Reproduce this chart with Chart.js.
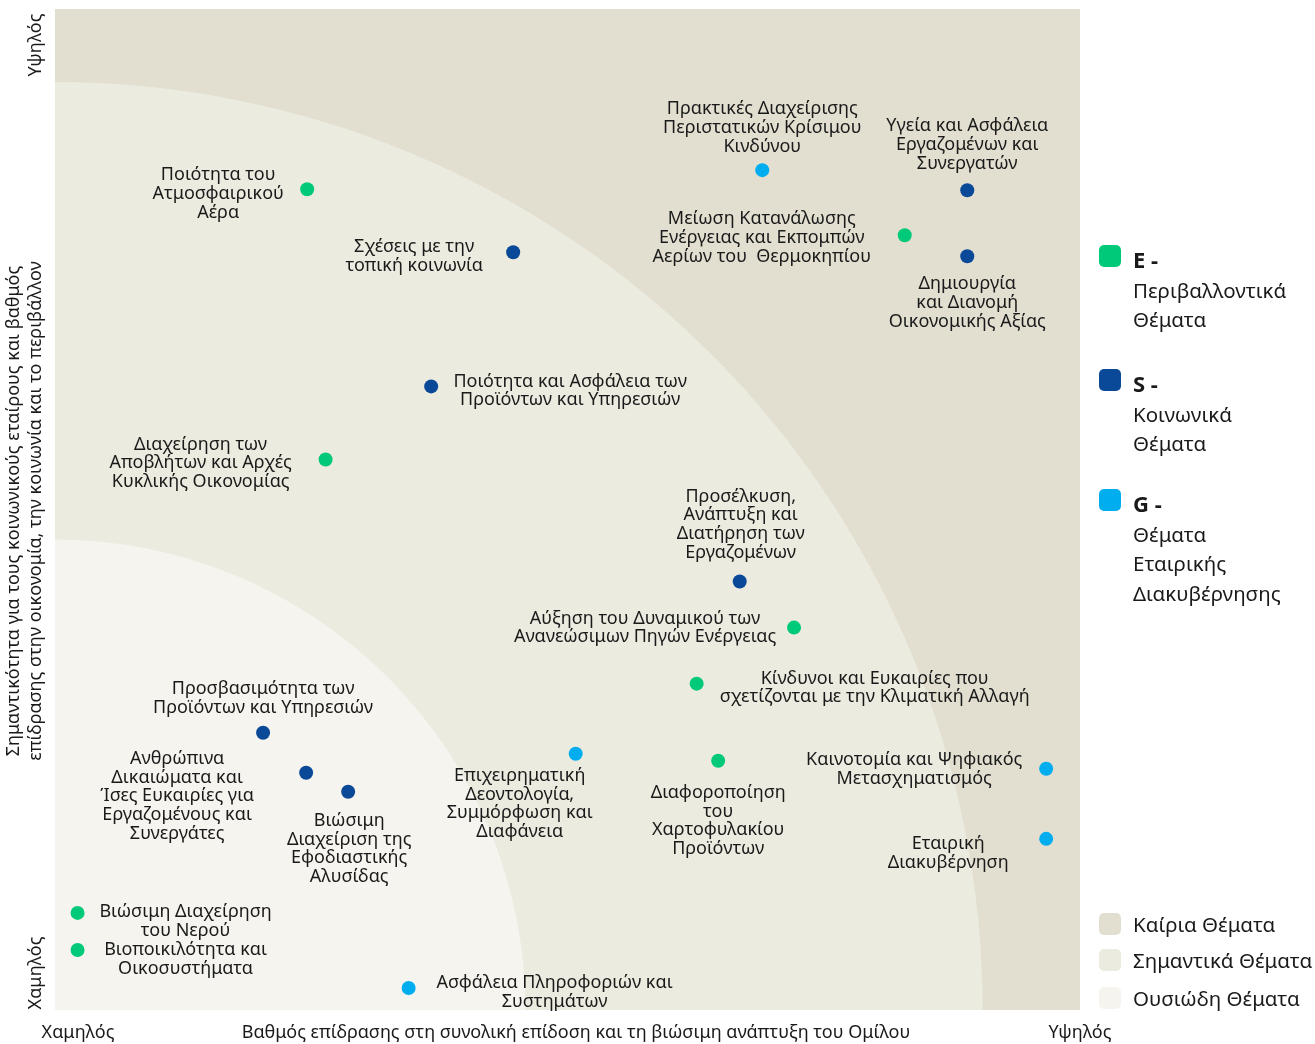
<!DOCTYPE html>
<html>
<head>
<meta charset="utf-8">
<script src="https://cdn.jsdelivr.net/npm/chart.js@4/dist/chart.umd.min.js"></script>
<style>
  html, body { margin: 0; padding: 0; background: #fff; }
  #wrap { width: 1315px; height: 1044px; }
</style>
</head>
<body>
<div id="wrap"><canvas id="matrix"></canvas></div>
<script>
// θέματα ουσιαστικότητας
const topics = [
  ['Ποιότητα του', 'Ατμοσφαιρικού', 'Αέρα'],
  ['Σχέσεις με την', 'τοπική κοινωνία'],
  ['Πρακτικές Διαχείρισης', 'Περιστατικών Κρίσιμου', 'Κινδύνου'],
  ['Υγεία και Ασφάλεια', 'Εργαζομένων και', 'Συνεργατών'],
  ['Μείωση Κατανάλωσης', 'Ενέργειας και Εκπομπών', 'Αερίων του  Θερμοκηπίου'],
  ['Δημιουργία', 'και Διανομή', 'Οικονομικής Αξίας'],
  ['Ποιότητα και Ασφάλεια των', 'Προϊόντων και Υπηρεσιών'],
  ['Διαχείρηση των', 'Αποβλήτων και Αρχές', 'Κυκλικής Οικονομίας'],
  ['Προσέλκυση,', 'Ανάπτυξη και', 'Διατήρηση των', 'Εργαζομένων'],
  ['Αύξηση του Δυναμικού των', 'Ανανεώσιμων Πηγών Ενέργειας'],
  ['Κίνδυνοι και Ευκαιρίες που', 'σχετίζονται με την Κλιματική Αλλαγή'],
  ['Προσβασιμότητα των', 'Προϊόντων και Υπηρεσιών'],
  ['Ανθρώπινα', 'Δικαιώματα και', 'Ίσες Ευκαιρίες για', 'Εργαζομένους και', 'Συνεργάτες'],
  ['Βιώσιμη', 'Διαχείριση της', 'Εφοδιαστικής', 'Αλυσίδας'],
  ['Επιχειρηματική', 'Δεοντολογία,', 'Συμμόρφωση και', 'Διαφάνεια'],
  ['Διαφοροποίηση', 'του', 'Χαρτοφυλακίου', 'Προϊόντων'],
  ['Καινοτομία και Ψηφιακός', 'Μετασχηματισμός'],
  ['Εταιρική', 'Διακυβέρνηση'],
  ['Βιώσιμη Διαχείρηση', 'του Νερού'],
  ['Βιοποικιλότητα και', 'Οικοσυστήματα'],
  ['Ασφάλεια Πληροφοριών και', 'Συστημάτων']
]
const categories = ['E', 'S', 'G', 'S', 'E', 'S', 'S', 'E', 'S', 'E', 'E', 'S', 'S', 'S', 'G', 'E', 'G', 'G', 'E', 'E', 'G']
// επίδραση στον Όμιλο (άξονας x)
const impact = [24.6, 44.7, 69.0, 89.0, 82.9, 89.0, 36.7, 26.4, 66.8, 72.1, 62.6, 20.3, 24.5, 28.6, 50.8, 64.7, 96.7, 96.7, 2.2, 2.2, 34.5]
// σημαντικότητα για τους ενδιαφερόμενους (άξονας y)
const importance = [82.0, 75.7, 83.9, 81.9, 77.4, 75.3, 62.3, 55.0, 42.8, 38.2, 32.6, 27.7, 23.7, 21.8, 25.6, 24.9, 24.1, 17.1, 9.7, 6.0, 2.2]

// όρια ζωνών (ουσιώδη / σημαντικά) στις μονάδες των αξόνων
const zoneImpact = [45.9, 90.5]
const zoneImportance = [47.0, 92.7]
const zoneNames = ['Καίρια Θέματα', 'Σημαντικά Θέματα', 'Ουσιώδη Θέματα']

const catLegend = [
  { key: 'E', lines: ['Περιβαλλοντικά', 'Θέματα'] },
  { key: 'S', lines: ['Κοινωνικά', 'Θέματα'] },
  { key: 'G', lines: ['Θέματα', 'Εταιρικής', 'Διακυβέρνησης'] }
]

const catColors = { E: '#00c97a', S: '#0a4898', G: '#00aeef' }
const zoneColors = ['#e2dfd1', '#ecebe0', '#f5f4ef']

// θέση ετικέτας ως προς το σημείο: [dx κέντρου, dy πρώτης γραμμής]
const labelOffsets = [
  [-89, -14], [-99, -5], [0, -61], [0, -64], [-143, -16], [0, 28], [139, -5],
  [-125, -15], [1, -85], [-149, -9], [178, -5], [0, -44], [-129, -14], [1, 29],
  [-56, 22], [0, 32], [-132, -9], [-98, 5], [108, -1], [108, 0], [146, -5]
]

const FONT = '"Noto Sans", sans-serif'

function datasetFor(cat) {
  const pts = []
  topics.forEach((t, i) => {
    if (categories[i] === cat) pts.push({ x: impact[i], y: importance[i], idx: i })
  })
  return {
    label: cat,
    data: pts,
    backgroundColor: catColors[cat],
    borderWidth: 0,
    pointRadius: 7,
    pointHoverRadius: 7
  }
}

const zonesPlugin = {
  id: 'zones',
  beforeDatasetsDraw(chart) {
    const { ctx, chartArea: a, scales: { x, y } } = chart
    ctx.save()
    ctx.beginPath()
    ctx.rect(a.left, a.top, a.right - a.left, a.bottom - a.top)
    ctx.clip()
    ctx.fillStyle = zoneColors[0]
    ctx.fillRect(a.left, a.top, a.right - a.left, a.bottom - a.top)
    const ox = x.getPixelForValue(0), oy = y.getPixelForValue(0)
    for (let k = zoneImpact.length - 1; k >= 0; k--) {
      const rx = x.getPixelForValue(zoneImpact[k]) - ox
      const ry = oy - y.getPixelForValue(zoneImportance[k])
      ctx.beginPath()
      ctx.moveTo(ox, oy)
      ctx.ellipse(ox, oy, rx, ry, 0, -Math.PI / 2, 0)
      ctx.closePath()
      ctx.fillStyle = zoneColors[zoneImpact.length - k]
      ctx.fill()
    }
    ctx.restore()
  },
  afterDatasetsDraw(chart) {
    const { ctx, chartArea: a, scales: { x, y } } = chart
    ctx.save()
    ctx.fillStyle = '#1a1a1a'
    ctx.textAlign = 'center'
    ctx.textBaseline = 'middle'
    ctx.font = '18px ' + FONT
    topics.forEach((lines, i) => {
      const px = x.getPixelForValue(impact[i])
      const py = y.getPixelForValue(importance[i])
      const [dx, dy] = labelOffsets[i]
      lines.forEach((l, j) => ctx.fillText(l, px + dx, py + dy + j * 18.7))
    })

    // άξονες
    ctx.font = '18px ' + FONT
    ctx.fillText('Χαμηλός', a.left + 23, a.bottom + 23)
    ctx.fillText('Υψηλός', a.right, a.bottom + 23)
    ctx.fillText('Βαθμός επίδρασης στη συνολική επίδοση και τη βιώσιμη ανάπτυξη του Ομίλου', 576, a.bottom + 23)
    ctx.save()
    ctx.translate(36, 0)
    ctx.rotate(-Math.PI / 2)
    ctx.fillText('Υψηλός', -45, 0)
    ctx.fillText('Χαμηλός', -973, 0)
    ctx.fillText('επίδρασης στην οικονομία, την κοινωνία και το περιβάλλον', -511, 0)
    ctx.fillText('Σημαντικότητα για τους κοινωνικούς εταίρους και βαθμός', -511, -22)
    ctx.restore()

    // υπόμνημα κατηγοριών
    const lx = 1099
    const tops = [245, 369, 489]
    catLegend.forEach((c, k) => {
      ctx.fillStyle = catColors[c.key]
      ctx.beginPath()
      ctx.roundRect(lx, tops[k], 22, 22, 5)
      ctx.fill()
      ctx.fillStyle = '#1a1a1a'
      ctx.textAlign = 'left'
      ctx.font = 'bold 22px ' + FONT
      ctx.fillText(c.key + ' -', 1133, tops[k] + 17)
      ctx.font = '20.5px ' + FONT
      c.lines.forEach((l, j) => ctx.fillText(l, 1133, tops[k] + 47 + j * 29.5))
    })

    // υπόμνημα ζωνών
    const ztops = [913, 949, 987]
    zoneNames.forEach((n, k) => {
      ctx.fillStyle = zoneColors[k]
      ctx.beginPath()
      ctx.roundRect(lx, ztops[k], 22, 22, 5)
      ctx.fill()
      ctx.fillStyle = '#1a1a1a'
      ctx.font = '20.5px ' + FONT
      ctx.fillText(n, 1133, ztops[k] + 13)
    })
    ctx.restore()
  }
}

new Chart(document.getElementById('matrix'), {
  type: 'scatter',
  data: { datasets: ['E', 'S', 'G'].map(datasetFor) },
  options: {
    responsive: true,
    maintainAspectRatio: false,
    animation: false,
    layout: { padding: { left: 55, right: 235, top: 9, bottom: 34 } },
    scales: {
      x: { min: 0, max: 100, display: false },
      y: { min: 0, max: 100, display: false }
    },
    plugins: {
      legend: { display: false },
      tooltip: { enabled: false }
    }
  },
  plugins: [zonesPlugin]
})
</script>
</body>
</html>
